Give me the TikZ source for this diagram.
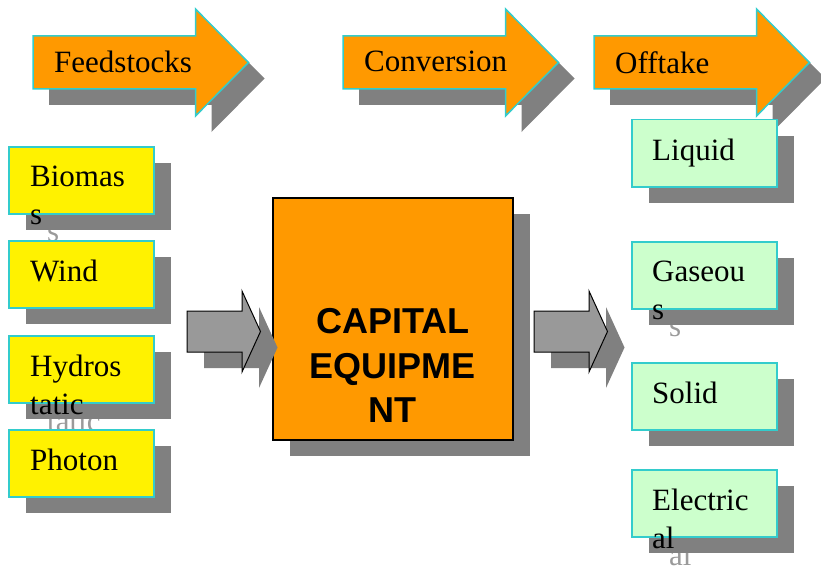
\documentclass[tikz,border=0pt]{standalone}
\usepackage{fontspec}
\setmainfont{Liberation Serif}
\setsansfont{Liberation Sans}
\usetikzlibrary{%
  calc,
  shadows,
}

\definecolor{stageorange}{HTML}{FF9900}
\definecolor{tealline}{HTML}{33CCCC}
\definecolor{mint}{HTML}{CCFFCC}
\definecolor{shadowgray}{HTML}{808080}
\definecolor{ghost}{HTML}{9A9A9A}
\definecolor{flowgray}{HTML}{999999}

\tikzset{
  shadowed/.style = {drop shadow = {shadow xshift = 17pt, shadow yshift = -16pt,
                                    fill = shadowgray, opacity = 1}},
  inbox/.style = {rectangle, draw = tealline, line width = 1.5pt, fill = yellow,
                  minimum width = 145, minimum height = 67, inner sep = 0,
                  anchor = north west, shadowed},
  outbox/.style = {inbox, fill = mint},
  capbox/.style = {rectangle, draw = black, line width = 1.5pt, fill = stageorange,
                   minimum width = 240, minimum height = 242, inner sep = 0,
                   anchor = north west, shadowed},
  lbl/.style = {font = \fontsize{31}{38}\selectfont, align = left,
                anchor = north west, inner sep = 0},
  ghosttext/.style = {lbl, text = ghost},
  stage/.style = {draw = tealline, line width = 1.5pt, fill = stageorange},
  flow/.style = {draw = black, line width = 1pt, fill = flowgray},
}

\begin{document}
\begin{tikzpicture}[x = 1pt, y = -1pt]
  \useasboundingbox (0,0) rectangle (821,567);

  % stage arrows
  \foreach \x/\name/\txt in {33/feed/Feedstocks, 343/conv/Conversion, 594/off/Offtake} {
    \fill[shadowgray, shift = {(16,16)}]
      (\x,36) -- (\x+162.5,36) -- (\x+162.5,9) -- (\x+215.5,62.5)
      -- (\x+162.5,116) -- (\x+162.5,89) -- (\x,89) -- cycle;
    \draw[stage]
      (\x,36) -- (\x+162.5,36) -- (\x+162.5,9) -- (\x+215.5,62.5)
      -- (\x+162.5,116) -- (\x+162.5,89) -- (\x,89) -- cycle;
    \node[lbl] (\name) at (\x+21,51) {\txt};
  }

  % feedstocks
  \foreach \y/\name/\txt in {146/bio/{Biomas\\s}, 240/wind/Wind,
                             335/hydro/{Hydros\\tatic}, 429/phot/Photon} {
    \node[ghosttext] at (47,\y+37) {\txt};
    \node[inbox] (\name) at (8,\y) {};
    \node[lbl] (\name-t) at ($(\name.north west)+(22,20)$) {\txt};
  }

  % offtake products
  \foreach \y/\name/\txt in {119/liq/Liquid, 241/gas/{Gaseou\\s},
                             362/sol/Solid, 469/elec/{Electric\\al}} {
    \node[ghosttext] at (669,\y+37) {\txt};
    \node[outbox] (\name) at (631,\y) {};
    \node[lbl] (\name-t) at ($(\name.north west)+(21,20)$) {\txt};
  }

  % conversion
  \node[capbox] (cap) at (272,197) {};
  \node[
    font = \sffamily\bfseries\fontsize{36}{44.5}\selectfont,
    align = center, inner sep = 0,
  ] (cap-t) at ($(cap.center)+(0,47)$) {CAPITAL\\EQUIPME\\NT};

  % flow arrows in and out
  \foreach \x in {187,534} {
    \fill[shadowgray, shift = {(17,16)}]
      (\x,311) -- (\x+55,311) -- (\x+55,291) -- (\x+73.5,331.5)
      -- (\x+55,372) -- (\x+55,352) -- (\x,352) -- cycle;
    \draw[flow]
      (\x,311) -- (\x+55,311) -- (\x+55,291) -- (\x+73.5,331.5)
      -- (\x+55,372) -- (\x+55,352) -- (\x,352) -- cycle;
  }
\end{tikzpicture}
\end{document}
